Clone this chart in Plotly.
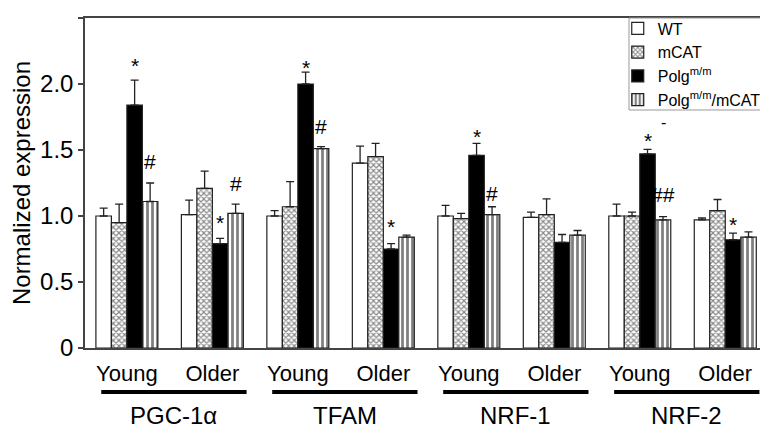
import plotly.graph_objects as go

# ---------------- data ----------------
positions = [0, 1, 2, 3, 4, 5, 6, 7]
age_labels = ["Young", "Older", "Young", "Older", "Young", "Older", "Young", "Older"]
genes = ["PGC-1α", "TFAM", "NRF-1", "NRF-2"]

series_names = ["WT", "mCAT", "Polg<sup>m/m</sup>", "Polg<sup>m/m</sup>/mCAT"]

wt_vals = [1.00, 1.01, 1.00, 1.40, 1.00, 0.99, 1.00, 0.97]
wt_err = [0.06, 0.11, 0.04, 0.13, 0.08, 0.04, 0.09, 0.015]

mcat_vals = [0.95, 1.21, 1.07, 1.45, 0.98, 1.01, 1.00, 1.04]
mcat_err = [0.14, 0.13, 0.19, 0.10, 0.04, 0.12, 0.03, 0.085]

polg_vals = [1.84, 0.79, 2.00, 0.75, 1.46, 0.80, 1.47, 0.82]
polg_err = [0.19, 0.04, 0.09, 0.04, 0.09, 0.06, 0.035, 0.05]

pm_vals = [1.11, 1.02, 1.51, 0.84, 1.01, 0.855, 0.97, 0.84]
pm_err = [0.14, 0.07, 0.015, 0.015, 0.06, 0.035, 0.025, 0.04]

# significance marks: text, group position, series index, label level (data units)
sig_text = ["*", "#", "*", "#", "*", "#", "*", "*", "#", "*", "-", "##", "*"]
sig_pos = [0, 0, 1, 1, 2, 2, 3, 4, 4, 6, 6, 6, 7]
sig_series = [2, 3, 2, 3, 2, 3, 2, 2, 3, 2, 3, 3, 2]
sig_level = [2.18, 1.41, 0.985, 1.25, 2.16, 1.68, 0.957, 1.64, 1.17, 1.61, 1.71, 1.16, 0.97]

y_ticks = [0, 0.5, 1.0, 1.5, 2.0, 2.5]
y_ticktext = ["0", "0.5", "1.0", "1.5", "2.0", "2.5"]

# ---------------- styling ----------------
FONT = "Liberation Sans, Arial, sans-serif"
BARGAP = 0.275
n_series = 4

values = [wt_vals, mcat_vals, polg_vals, pm_vals]
errors = [wt_err, mcat_err, polg_err, pm_err]
fills = [
    dict(color="white"),
    dict(color="white", pattern=dict(shape="x", fgcolor="#111111", bgcolor="white", size=4, solidity=0.5)),
    dict(color="black"),
    dict(color="white", pattern=dict(shape="|", fgcolor="black", bgcolor="white", size=5, solidity=0.55)),
]

fig = go.Figure()
for i in range(n_series):
    marker = dict(line=dict(color="#222222", width=1.2))
    marker.update(fills[i])
    fig.add_trace(go.Bar(
        x=positions,
        y=values[i],
        name=series_names[i],
        marker=marker,
        error_y=dict(type="data", array=errors[i], arrayminus=[0] * len(errors[i]),
                     symmetric=False, color="#222222", thickness=1.3, width=4),
    ))

bar_w = (1 - BARGAP) / n_series
annotations = []
for t, p, s, lv in zip(sig_text, sig_pos, sig_series, sig_level):
    annotations.append(dict(
        x=p + (s - 1.5) * bar_w, y=lv, xref="x", yref="y",
        text=t, showarrow=False, yanchor="middle", xanchor="center",
        yshift=-5 if t == "*" else 0,
        font=dict(family=FONT, size=21 if t != "-" else 16, color="black"),
    ))

shapes = []
for gi, g in enumerate(genes):
    shapes.append(dict(type="line", xref="x", yref="paper",
                       x0=2 * gi - 0.30, x1=2 * gi + 1.40, y0=-0.1333, y1=-0.1333,
                       line=dict(color="black", width=4)))
    annotations.append(dict(x=2 * gi + 0.55, y=-0.206, xref="x", yref="paper",
                            text=g, showarrow=False, yanchor="middle", xanchor="center",
                            font=dict(family=FONT, size=24, color="black")))

# legend box
shapes.append(dict(type="rect", xref="paper", yref="paper",
                   x0=0.7965, x1=1.01, y0=0.7212, y1=1.0,
                   line=dict(color="#999999", width=1), fillcolor="rgba(0,0,0,0)"))

# the page body adds an 8px offset, so the figure is 8px smaller than the window
fig.update_layout(
    width=760, height=425,
    margin=dict(l=77, r=0, t=10, b=85, autoexpand=False),
    paper_bgcolor="white", plot_bgcolor="white",
    barmode="group", bargap=BARGAP, bargroupgap=0,
    font=dict(family=FONT, color="black"),
    showlegend=True,
    legend=dict(x=0.78, y=1.02, xanchor="left", yanchor="top",
                bgcolor="rgba(0,0,0,0)", borderwidth=0,
                font=dict(family=FONT, size=16, color="black"),
                tracegroupgap=0),
    annotations=annotations,
    shapes=shapes,
)
fig.update_xaxes(range=[-0.49, 7.5], tickvals=positions, ticktext=age_labels, automargin=False,
                 ticks="", showline=True, linecolor="#444444", linewidth=1.5, mirror=True,
                 tickfont=dict(family=FONT, size=22, color="black"),
                 ticklabelstandoff=5, showgrid=False, zeroline=False)
fig.update_yaxes(range=[0, 2.5], tickvals=y_ticks, ticktext=y_ticktext, automargin=False,
                 ticks="outside", ticklen=5, tickcolor="#444444", tickwidth=1.5,
                 showline=True, linecolor="#444444", linewidth=1.5,
                 tickfont=dict(family=FONT, size=24, color="black"),
                 title=dict(text="Normalized expression", font=dict(family=FONT, size=24, color="black"), standoff=6),
                 showgrid=False, zeroline=False)

fig.write_html("out.html")
